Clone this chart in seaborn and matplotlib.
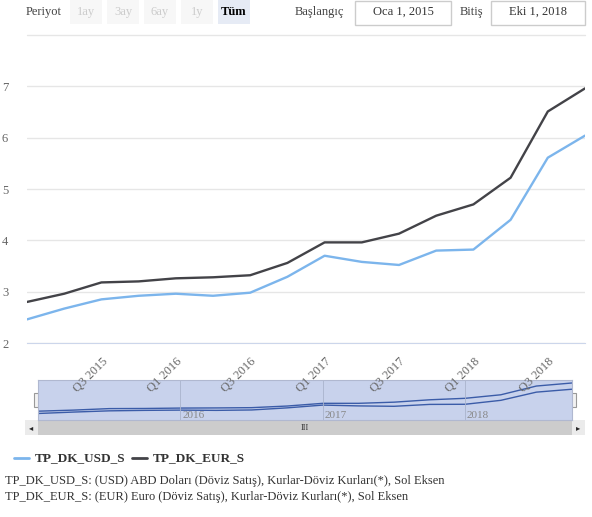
import numpy as np
import pandas as pd
import seaborn as sns
import matplotlib.pyplot as plt
from matplotlib.patches import Rectangle

# quarterly values, Oca 2015 - Eki 2018
quarters = ["Q1 2015", "Q2 2015", "Q3 2015", "Q4 2015", "Q1 2016", "Q2 2016", "Q3 2016", "Q4 2016",
            "Q1 2017", "Q2 2017", "Q3 2017", "Q4 2017", "Q1 2018", "Q2 2018", "Q3 2018", "Q4 2018"]
usd = [2.46, 2.67, 2.85, 2.92, 2.96, 2.92, 2.98, 3.29, 3.70, 3.58, 3.52, 3.80, 3.82, 4.40, 5.61, 6.04]
eur = [2.80, 2.96, 3.18, 3.20, 3.26, 3.28, 3.32, 3.56, 3.96, 3.96, 4.13, 4.48, 4.70, 5.22, 6.51, 6.96]
tick_labels = ["Q3 2015", "Q1 2016", "Q3 2016", "Q1 2017", "Q3 2017", "Q1 2018", "Q3 2018"]
year_labels = ["2016", "2017", "2018"]

sns.set_style("white")
plt.rcParams['font.family'] = ['Liberation Serif', 'DejaVu Serif']

W, H = 592, 517
fig = plt.figure(figsize=(W / 100, H / 100), dpi=100)

def box(x0, y0, x1, y1):
    return [x0 / W, 1 - y1 / H, (x1 - x0) / W, (y1 - y0) / H]

df = pd.DataFrame({"x": list(range(len(quarters))) * 2,
                   "val": usd + eur,
                   "series": ["TP_DK_USD_S"] * len(usd) + ["TP_DK_EUR_S"] * len(eur)})
pal = {"TP_DK_USD_S": "#7cb5ec", "TP_DK_EUR_S": "#434348"}

# navigator (drawn first, below main axes)
nav = fig.add_axes(box(38, 380, 572, 420))
nav.set_zorder(1)
nav.add_patch(Rectangle((0, 0), 1, 1, transform=nav.transAxes, color="#c8d2ec", zorder=0))
sns.lineplot(data=df, x="x", y="val", hue="series", palette={k: "#3b5ca8" for k in pal},
             linewidth=1, legend=False, ax=nav)
nav.set_xlim(0, len(quarters) - 1)
nav.set_ylim(1.5, 7.4)
nav.set_xticks([]); nav.set_yticks([])
nav.set_xlabel(""); nav.set_ylabel("")
for s in nav.spines.values():
    s.set_color("#b0b8d0")
for i, y in enumerate(year_labels):
    xp = quarters.index("Q1 " + y)
    nav.axvline(xp, color="#aab4cc", linewidth=0.6)
    nav.text(xp + 0.05, 1.8, y, fontsize=8, color="#888888")

ax = fig.add_axes(box(27, 35, 585, 343))
ax.set_zorder(5)
ax.patch.set_alpha(0)
sns.lineplot(data=df, x="x", y="val", hue="series", palette=pal, linewidth=1.7, legend=False, ax=ax)
ax.set_xlim(0, len(quarters) - 1)
ax.set_ylim(2, 8)
ax.set_yticks([2, 3, 4, 5, 6, 7])
ax.yaxis.grid(True, color="#e6e6e6", linewidth=1)
ax.axhline(8, color="#e6e6e6", linewidth=1, clip_on=False)
for s in ["top", "right", "left"]:
    ax.spines[s].set_visible(False)
ax.spines["bottom"].set_color("#ccd6eb")
ax.set_xlabel("")
ax.set_ylabel("")
ax.set_xticks([quarters.index(t) for t in tick_labels])
ax.set_xticklabels(tick_labels, rotation=45, ha="right", va="top", rotation_mode="anchor",
                   fontsize=9, color="#666666")
ax.tick_params(axis="x", length=8, color="#ccd6eb", direction="out", pad=1)
ax.tick_params(axis="y", length=0, labelsize=9, labelcolor="#666666", pad=18)
for lab in ax.get_yticklabels():
    lab.set_ha("left")

for hx in [38, 572]:
    fig.add_artist(Rectangle(((hx - 4) / W, 1 - 407 / H), 8 / W, 14 / H, facecolor="#f2f2f2",
                             edgecolor="#999999", linewidth=0.8))

# scrollbar
fig.add_artist(Rectangle((25 / W, 1 - 435 / H), 560 / W, 15 / H, facecolor="#cccccc", edgecolor="none"))
fig.add_artist(Rectangle((25 / W, 1 - 435 / H), 13 / W, 15 / H, facecolor="#ebebeb", edgecolor="none"))
fig.add_artist(Rectangle((572 / W, 1 - 435 / H), 13 / W, 15 / H, facecolor="#ebebeb", edgecolor="none"))
fig.text(31 / W, 1 - 428 / H, "◂", fontsize=6, va="center", ha="center", family="DejaVu Sans")
fig.text(578 / W, 1 - 428 / H, "▸", fontsize=6, va="center", ha="center", family="DejaVu Sans")
fig.text(305 / W, 1 - 428 / H, "III", fontsize=6, va="center", ha="center", color="#333333")

# legend
fig.add_artist(plt.Line2D([14 / W, 29 / W], [1 - 458 / H] * 2, color=pal["TP_DK_USD_S"], linewidth=2))
fig.text(35 / W, 1 - 458 / H, "TP_DK_USD_S", fontsize=9.5, weight="bold", va="center", color="#333333")
fig.add_artist(plt.Line2D([132 / W, 147 / W], [1 - 458 / H] * 2, color=pal["TP_DK_EUR_S"], linewidth=2))
fig.text(153 / W, 1 - 458 / H, "TP_DK_EUR_S", fontsize=9.5, weight="bold", va="center", color="#333333")
fig.text(5 / W, 1 - 481 / H, "TP_DK_USD_S: (USD) ABD Doları (Döviz Satış), Kurlar-Döviz Kurları(*), Sol Eksen",
         fontsize=9, va="center", color="#333333")
fig.text(5 / W, 1 - 497 / H, "TP_DK_EUR_S: (EUR) Euro (Döviz Satış), Kurlar-Döviz Kurları(*), Sol Eksen",
         fontsize=9, va="center", color="#333333")

# range selector row
fig.text(26 / W, 1 - 12 / H, "Periyot", fontsize=9, va="center", color="#444444")
for lbl, xc in zip(["1ay", "3ay", "6ay", "1y"], [86, 123, 160, 197]):
    fig.add_artist(Rectangle(((xc - 16) / W, 1 - 24 / H), 32 / W, 24 / H, facecolor="#f7f7f7", edgecolor="none"))
    fig.text(xc / W, 1 - 12 / H, lbl, fontsize=9, va="center", ha="center", color="#cccccc")
fig.add_artist(Rectangle((218 / W, 1 - 24 / H), 32 / W, 24 / H, facecolor="#e6ebf5", edgecolor="none"))
fig.text(234 / W, 1 - 12 / H, "Tüm", fontsize=9, va="center", ha="center", weight="bold", color="#000000")
fig.text(295 / W, 1 - 12 / H, "Başlangıç", fontsize=9, va="center", color="#444444")
fig.add_artist(Rectangle((355 / W, 1 - 25 / H), 96 / W, 24 / H, facecolor="white", edgecolor="#cccccc"))
fig.text(403 / W, 1 - 12 / H, "Oca 1, 2015", fontsize=9, va="center", ha="center", color="#333333")
fig.text(460 / W, 1 - 12 / H, "Bitiş", fontsize=9, va="center", color="#444444")
fig.add_artist(Rectangle((491 / W, 1 - 25 / H), 94 / W, 24 / H, facecolor="white", edgecolor="#cccccc"))
fig.text(538 / W, 1 - 12 / H, "Eki 1, 2018", fontsize=9, va="center", ha="center", color="#333333")

fig.savefig("out.png", dpi=100)
